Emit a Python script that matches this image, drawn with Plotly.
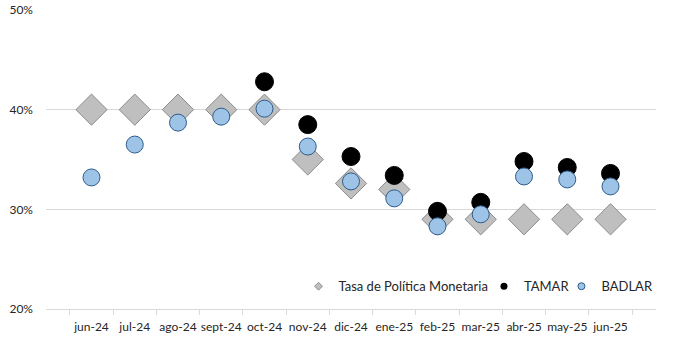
import plotly.graph_objects as go

months = ["jun-24", "jul-24", "ago-24", "sept-24", "oct-24", "nov-24", "dic-24",
          "ene-25", "feb-25", "mar-25", "abr-25", "may-25", "jun-25"]
tpm = [40, 40, 40, 40, 40, 35, 32.6, 32, 29, 29, 29, 29, 29]
tamar = [None, None, None, None, 42.8, 38.5, 35.3, 33.4, 29.8, 30.7, 34.8, 34.2, 33.6]
badlar = [33.2, 36.5, 38.7, 39.3, 40.1, 36.3, 32.8, 31.1, 28.3, 29.5, 33.3, 33.0, 32.3]

names = ["Tasa de Política Monetaria", "TAMAR", "BADLAR"]

fig = go.Figure()
fig.add_trace(go.Scatter(x=months, y=tpm, mode="markers", name=names[0], showlegend=False,
                         marker=dict(symbol="diamond", size=24, color="#BFBFBF",
                                     line=dict(color="#8C8C8C", width=1))))
fig.add_trace(go.Scatter(x=months, y=tamar, mode="markers", name=names[1], showlegend=False,
                         marker=dict(symbol="circle", size=18, color="#000000",
                                     line=dict(color="#000000", width=1))))
fig.add_trace(go.Scatter(x=months, y=badlar, mode="markers", name=names[2], showlegend=False,
                         marker=dict(symbol="circle", size=17, color="#9DC3E6",
                                     line=dict(color="#2E5C8A", width=1))))

# legend entries with small symbols
fig.add_trace(go.Scatter(x=[None], y=[None], mode="markers", name=names[0], legend="legend",
                         marker=dict(symbol="diamond", size=6, color="#BFBFBF",
                                     line=dict(color="#8C8C8C", width=1))))
fig.add_trace(go.Scatter(x=[None], y=[None], mode="markers", name=names[1], legend="legend2",
                         marker=dict(symbol="circle", size=7, color="#000000")))
fig.add_trace(go.Scatter(x=[None], y=[None], mode="markers", name=names[2], legend="legend3",
                         marker=dict(symbol="circle", size=7, color="#9DC3E6",
                                     line=dict(color="#2E5C8A", width=1))))

leg_common = dict(orientation="h", xanchor="left", y=0.076, yanchor="middle",
                  bgcolor="rgba(0,0,0,0)", font=dict(size=13, color="#262626"),
                  itemwidth=30)

fig.update_layout(
    width=682, height=340,
    margin=dict(l=46, r=26, t=10, b=31),
    paper_bgcolor="white", plot_bgcolor="white",
    font=dict(family="Lato, Open Sans, sans-serif", size=13, color="#262626"),
    showlegend=True,
    legend=dict(x=0.414, **leg_common),
    legend2=dict(x=0.718, **leg_common),
    legend3=dict(x=0.845, **leg_common),
)
fig.update_xaxes(type="category", categoryorder="array", categoryarray=months,
                 showgrid=False, showline=True, linecolor="#D9D9D9", linewidth=1,
                 ticks="outside", tickson="boundaries", ticklen=5, tickcolor="#D9D9D9",
                 tickangle=0, automargin=False, ticklabelstandoff=7,
                 tickfont=dict(size=12, color="#262626"), fixedrange=True)
fig.update_yaxes(range=[20, 50], dtick=10, ticksuffix="%", showgrid=True,
                 gridcolor="#D9D9D9", gridwidth=1, zeroline=False, showline=False,
                 ticklabelstandoff=12, automargin=False,
                 tickfont=dict(size=12, color="#262626"), fixedrange=True)

fig.write_html("out.html")
